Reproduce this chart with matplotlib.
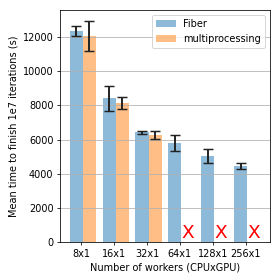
import matplotlib
matplotlib.use("Agg")
import matplotlib.pyplot as plt
import numpy as np

categories = ["8x1", "16x1", "32x1", "64x1", "128x1", "256x1"]
fiber_mean = [12340, 8420, 6430, 5790, 5050, 4440]
fiber_err = [300, 730, 95, 470, 410, 185]
mp_mean = [12050, 8130, 6260]
mp_err = [870, 340, 255]

fig = plt.figure(figsize=(4, 4), dpi=70)
ax = fig.add_axes([0.215, 0.136, 0.749, 0.827])

x = np.arange(len(categories))
w = 0.4
ax.bar(x, fiber_mean, w, yerr=fiber_err, color="tab:blue", alpha=0.5,
       label="Fiber", error_kw=dict(ecolor="#222222", elinewidth=2, capsize=5.5, capthick=1.5))
xm = np.arange(len(mp_mean)) + w
ax.bar(xm, mp_mean, w, yerr=mp_err, color="tab:orange", alpha=0.5,
       label="multiprocessing", error_kw=dict(ecolor="#222222", elinewidth=2, capsize=5.5, capthick=1.5))
for i in range(len(mp_mean), len(categories)):
    ax.text(i + w, 0, "X", color="red", fontsize=19, ha="center", va="bottom")
ax.bar(x[len(mp_mean):] + w, [0] * (len(categories) - len(mp_mean)), w)

ax.set_xticks(x + 0.15)
ax.set_xticklabels(categories)
ax.yaxis.grid(True)
ax.set_ylabel("Mean time to finish 1e7 iterations (s)")
ax.set_xlabel("Number of workers (CPUxGPU)")
ax.legend(loc="upper right")
fig.savefig("out.png", dpi=70)
